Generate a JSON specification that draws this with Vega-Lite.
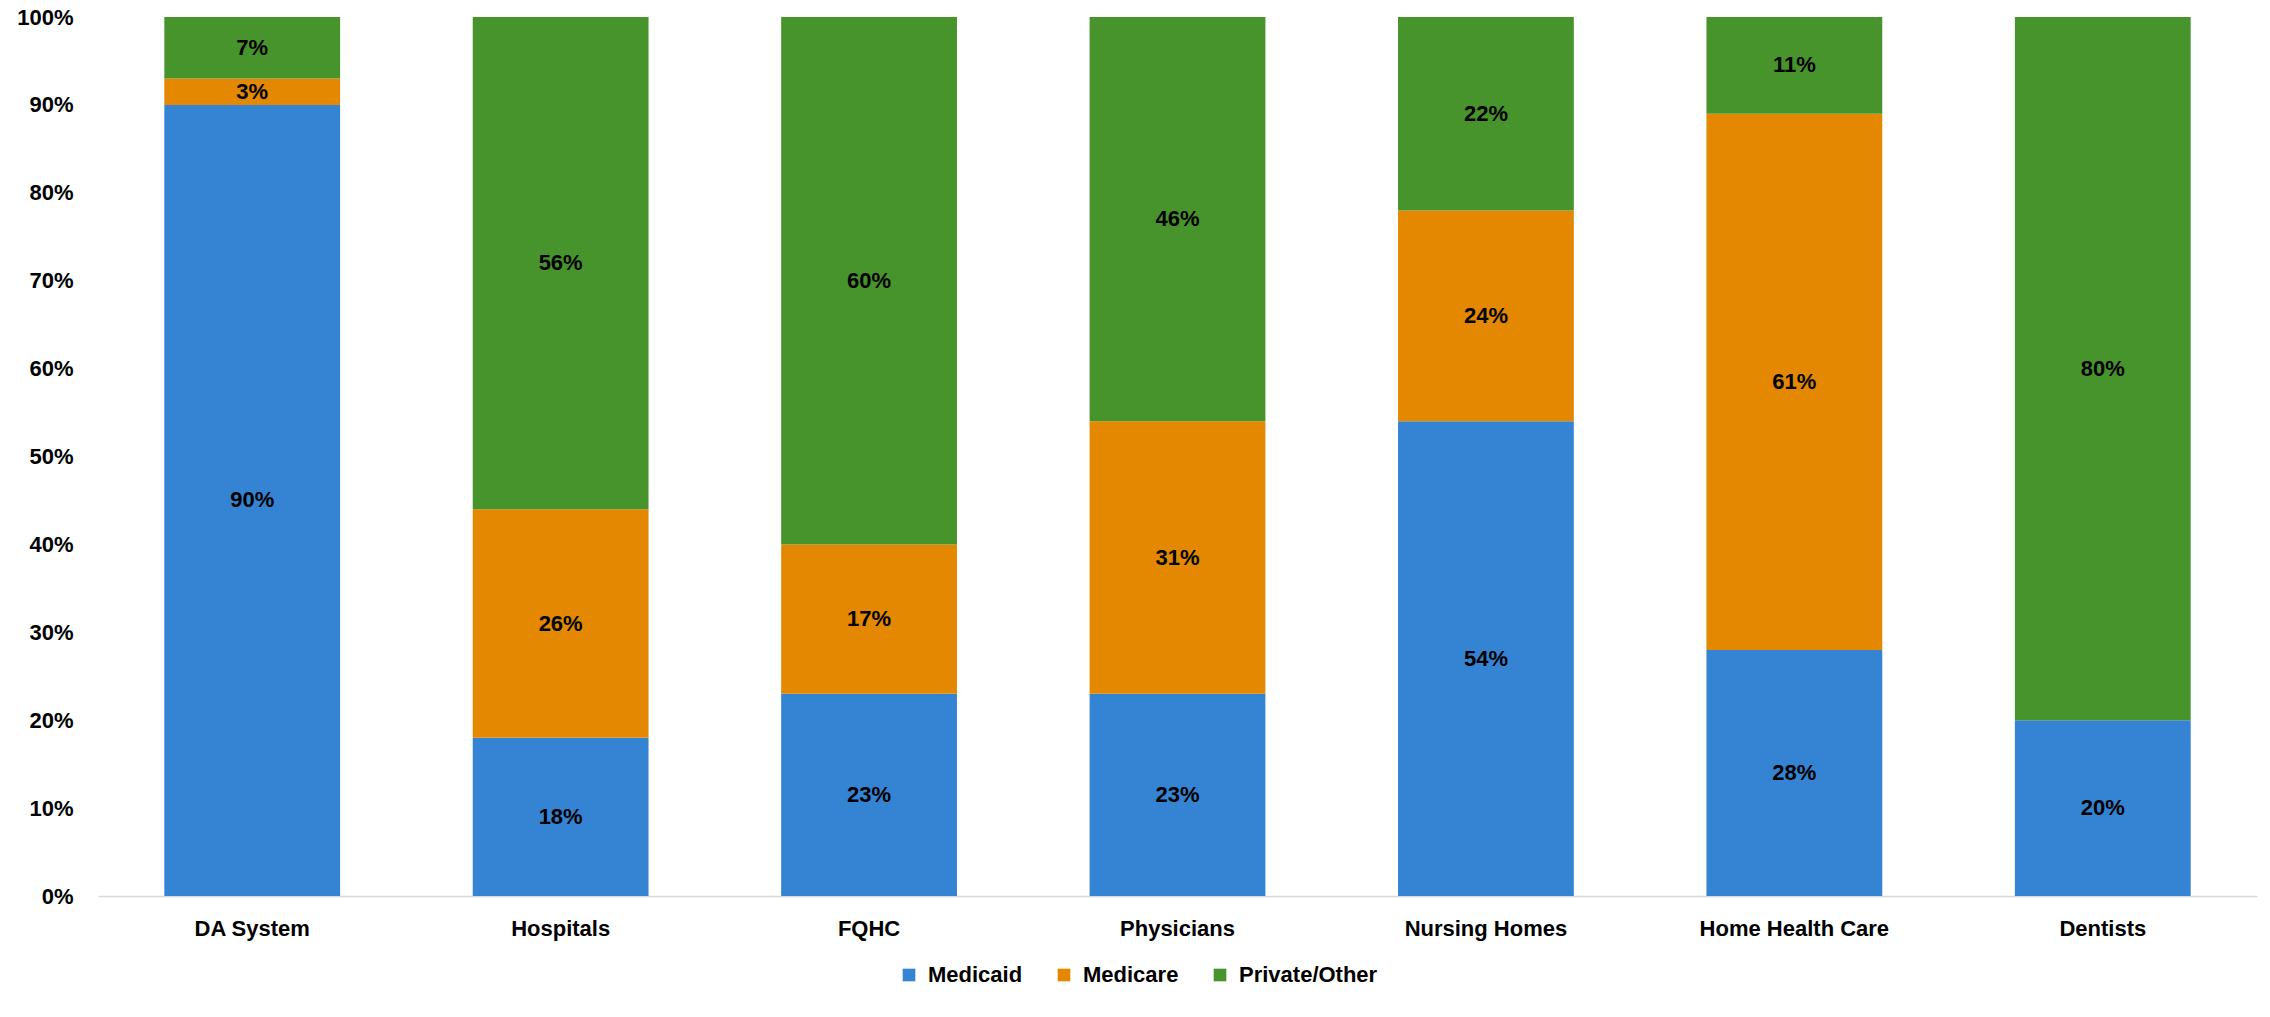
{
  "$schema": "https://vega.github.io/schema/vega-lite/v6.json",
  "autosize": {"type": "none"},
  "padding": {"left": 98, "top": 17, "right": 13, "bottom": 121},
  "width": 2159,
  "height": 879,
  "background": "white",
  "config": {
    "view": {"stroke": null},
    "font": "Liberation Sans",
    "axis": {"labelFont": "Liberation Sans", "labelFontWeight": "bold", "labelFontSize": 22, "labelColor": "#000000", "labelOverlap": false, "labelLimit": 0},
    "legend": {"labelFont": "Liberation Sans", "labelFontWeight": "bold", "labelFontSize": 22, "labelColor": "#000000", "labelLimit": 0}
  },
  "data": {
    "values": [
      {"category": "DA System", "payer": "Medicaid", "order": 1, "pct": 0.90},
      {"category": "DA System", "payer": "Medicare", "order": 2, "pct": 0.03},
      {"category": "DA System", "payer": "Private/Other", "order": 3, "pct": 0.07},
      {"category": "Hospitals", "payer": "Medicaid", "order": 1, "pct": 0.18},
      {"category": "Hospitals", "payer": "Medicare", "order": 2, "pct": 0.26},
      {"category": "Hospitals", "payer": "Private/Other", "order": 3, "pct": 0.56},
      {"category": "FQHC", "payer": "Medicaid", "order": 1, "pct": 0.23},
      {"category": "FQHC", "payer": "Medicare", "order": 2, "pct": 0.17},
      {"category": "FQHC", "payer": "Private/Other", "order": 3, "pct": 0.60},
      {"category": "Physicians", "payer": "Medicaid", "order": 1, "pct": 0.23},
      {"category": "Physicians", "payer": "Medicare", "order": 2, "pct": 0.31},
      {"category": "Physicians", "payer": "Private/Other", "order": 3, "pct": 0.46},
      {"category": "Nursing Homes", "payer": "Medicaid", "order": 1, "pct": 0.54},
      {"category": "Nursing Homes", "payer": "Medicare", "order": 2, "pct": 0.24},
      {"category": "Nursing Homes", "payer": "Private/Other", "order": 3, "pct": 0.22},
      {"category": "Home Health Care", "payer": "Medicaid", "order": 1, "pct": 0.28},
      {"category": "Home Health Care", "payer": "Medicare", "order": 2, "pct": 0.61},
      {"category": "Home Health Care", "payer": "Private/Other", "order": 3, "pct": 0.11},
      {"category": "Dentists", "payer": "Medicaid", "order": 1, "pct": 0.20},
      {"category": "Dentists", "payer": "Medicare", "order": 2, "pct": 0.00},
      {"category": "Dentists", "payer": "Private/Other", "order": 3, "pct": 0.80}
    ]
  },
  "transform": [
    {"stack": "pct", "groupby": ["category"], "sort": [{"field": "order", "order": "ascending"}], "as": ["v0", "v1"]}
  ],
  "layer": [
    {
      "mark": {"type": "bar"},
      "encoding": {
        "x": {
          "field": "category", "type": "nominal", "sort": null,
          "scale": {"paddingInner": 0.43, "paddingOuter": 0.215},
          "axis": {"title": null, "ticks": false, "labelAngle": 0, "labelPadding": 22, "domainColor": "#d9d9d9", "domainWidth": 1.5}
        },
        "y": {
          "field": "v1", "type": "quantitative",
          "scale": {"domain": [0, 1], "nice": false},
          "axis": {"title": null, "format": ".0%", "values": [0, 0.1, 0.2, 0.3, 0.4, 0.5, 0.6, 0.7, 0.8, 0.9, 1], "ticks": false, "domain": false, "grid": false, "labelPadding": 25}
        },
        "y2": {"field": "v0"},
        "color": {
          "field": "payer", "type": "nominal",
          "scale": {"domain": ["Medicaid", "Medicare", "Private/Other"], "range": ["#3584D3", "#E38800", "#48942C"]},
          "legend": {
            "title": null, "orient": "none", "direction": "horizontal",
            "legendX": 800, "legendY": 947,
            "symbolType": "square", "symbolSize": 160, "symbolStrokeWidth": 0,
            "labelOffset": 8, "columnPadding": 30
          }
        }
      }
    },
    {
      "transform": [
        {"filter": "datum.pct > 0"},
        {"fold": ["v0", "v1"], "as": ["edge", "pos"]}
      ],
      "mark": {"type": "text", "fontSize": 22, "fontWeight": "bold", "color": "#000000", "baseline": "middle", "align": "center"},
      "encoding": {
        "x": {"field": "category", "type": "nominal", "sort": null},
        "y": {"aggregate": "mean", "field": "pos", "type": "quantitative"},
        "detail": {"field": "payer", "type": "nominal"},
        "text": {"aggregate": "mean", "field": "pct", "type": "quantitative", "format": ".0%"}
      }
    }
  ]
}
